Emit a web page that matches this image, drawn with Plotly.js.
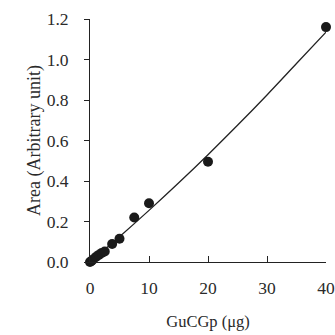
<!DOCTYPE html>
<html>
<head>
<meta charset="utf-8">
<script src="https://cdn.plot.ly/plotly-3.0.1.min.js"></script>
<style>html,body{margin:0;padding:0;background:#fff;}#chart{width:335px;height:335px;}</style>
</head>
<body>
<div id="chart"></div>
<script>
// Measured points
const amountUg = [0, 0.25, 0.5, 1, 1.5, 2, 2.5, 3.75, 5, 7.5, 10, 20, 40];
const areaValues = [0.0, 0.005, 0.012, 0.025, 0.035, 0.045, 0.052, 0.089, 0.115, 0.22, 0.29, 0.495, 1.16];
// Fitted curve
const fitX = [0, 5, 10, 15, 20, 25, 30, 35, 40];
const fitY = [0, 0.125, 0.255, 0.39, 0.53, 0.675, 0.825, 0.98, 1.135];
const xTickVals = [0, 10, 20, 30, 40];
const yTickVals = [0, 0.2, 0.4, 0.6, 0.8, 1.0, 1.2];
const yTickText = ["0.0", "0.2", "0.4", "0.6", "0.8", "1.0", "1.2"];

const fam = "Liberation Serif, Times New Roman, serif";
const tickFont = {family: fam, size: 17.5, color: "#2a2a2a"};
const xTitleFont = {family: fam, size: 16.5, color: "#2a2a2a"};
const yTitleFont = {family: fam, size: 18, color: "#2a2a2a"};

const traces = [
  {x: fitX, y: fitY, mode: "lines", line: {color: "#222", width: 1.3, shape: "spline"}, hoverinfo: "skip"},
  {x: amountUg, y: areaValues, mode: "markers", marker: {color: "#1a1a1a", size: 10}, cliponaxis: false}
];

const layout = {
  width: 335, height: 335,
  margin: {l: 90, r: 9, t: 19, b: 73},
  paper_bgcolor: "#fff", plot_bgcolor: "#fff",
  showlegend: false,
  font: tickFont,
  xaxis: {
    range: [0, 40], tickvals: xTickVals, ticks: "inside", ticklen: 6, tickcolor: "#222",
    showline: true, linecolor: "#222", linewidth: 1, showgrid: false, zeroline: false,
    ticklabelstandoff: 10, tickfont: tickFont,
    title: {text: "GuCGp (μg)", font: xTitleFont, standoff: 18}
  },
  yaxis: {
    range: [0, 1.2], tickvals: yTickVals, ticktext: yTickText, ticks: "outside", ticklen: 5, tickcolor: "#222",
    showline: true, linecolor: "#222", linewidth: 1, showgrid: false, zeroline: false,
    ticklabelstandoff: 12, tickfont: tickFont,
    title: {text: "Area (Arbitrary unit)", font: yTitleFont, standoff: 1}
  }
};

Plotly.newPlot("chart", traces, layout, {displayModeBar: false, staticPlot: true});
</script>
</body>
</html>
